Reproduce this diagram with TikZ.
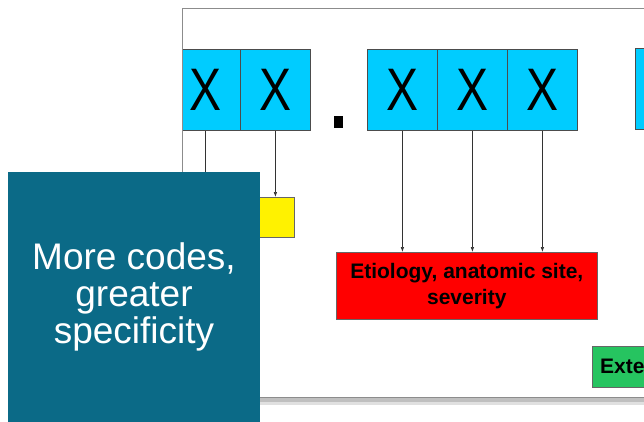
\documentclass[tikz,border=0pt]{standalone}
\usepackage{fontspec}
\setmainfont{Liberation Sans}
\newfontfamily\xfont[FakeStretch=0.8]{Liberation Sans}
\usetikzlibrary{positioning}
\usetikzlibrary{arrows.meta}
\definecolor{xcyan}{RGB}{0,204,255}
\definecolor{xteal}{RGB}{11,106,135}
\definecolor{xgreen}{RGB}{38,196,96}
\tikzset{
    xbox/.style = {rectangle, draw=black!70, line width=0.8pt, fill=xcyan, minimum width=70pt, minimum height=81pt, inner sep=0pt, anchor=north west, font=\xfont\fontsize{60}{60}\selectfont, text=black},
    ybox/.style = {rectangle, draw=black!60, line width=0.6pt, fill=yellow, minimum width=54pt, minimum height=40pt, inner sep=0pt, anchor=north west},
    rbox/.style = {rectangle, draw=black!60, line width=0.6pt, fill=red, minimum width=261pt, minimum height=67pt, inner sep=0pt, anchor=north west, align=center, font=\bfseries\fontsize{21}{26}\selectfont, text=black},
    gbox/.style = {rectangle, draw=black!60, line width=0.6pt, fill=xgreen, minimum width=120pt, minimum height=41pt, inner sep=0pt, anchor=north west},
    tbox/.style = {rectangle, fill=xteal, minimum width=252pt, minimum height=260pt, inner sep=0pt, anchor=north west},
    edgen/.style = {-{Latex[length=5pt,width=3.5pt]}, line width=0.6pt, black!80},
}

\begin{document}
\begin{tikzpicture}[x=1pt,y=-1pt]
\useasboundingbox[fill=white] (0,0) rectangle (644,421);

% slide frame with a soft shadow
\fill[black!25] (184,397) rectangle (660,402);
\fill[black!12] (184,402) rectangle (660,405);
\fill[white] (182,8) rectangle (660,397);

\begin{scope}
\clip (182,8) rectangle (644,397);
\node[xbox] at (170,49) (c1) {X};
\node[xbox] at (240,49) (c2) {X};
\node[rectangle, fill=black, minimum width=9pt, minimum height=12pt, inner sep=0pt, anchor=north west] at (334,116) (dot) {};
\node[xbox] at (367,49) (c3) {X};
\node[xbox] at (437,49) (c4) {X};
\node[xbox] at (507,49) (c5) {X};
\node[xbox] at (635,48) (c6) {};

\node[ybox] at (240,197) (yel) {};
\node[rbox] at (336,252) (red) {Etiology, anatomic site,\\severity};
\node[gbox] at (592,346) (grn) {};
\node[anchor=west, inner sep=0pt, font=\bfseries\fontsize{21}{26}\selectfont] at (600,366) (ext) {Exte};

\coordinate (hid) at (c1.south |- 0,220);
\draw[edgen] (c1.south) -- (hid);
\draw[edgen] (c2.south) -- (c2.south |- yel.north);
\draw[edgen] (c3.south) -- (c3.south |- red.north);
\draw[edgen] (c4.south) -- (c4.south |- red.north);
\draw[edgen] (c5.south) -- (c5.south |- red.north);
\end{scope}
\draw[black!45, line width=0.8pt] (644,8) -- (182,8) -- (182,397) -- (644,397);

% overlay panel
\node[tbox] at (8,172) (panel) {};
\node[align=center, text=white, font=\fontsize{37}{37}\selectfont] at (134,297) (msg) {More codes,\\greater\\specificity};
\end{tikzpicture}
\end{document}
